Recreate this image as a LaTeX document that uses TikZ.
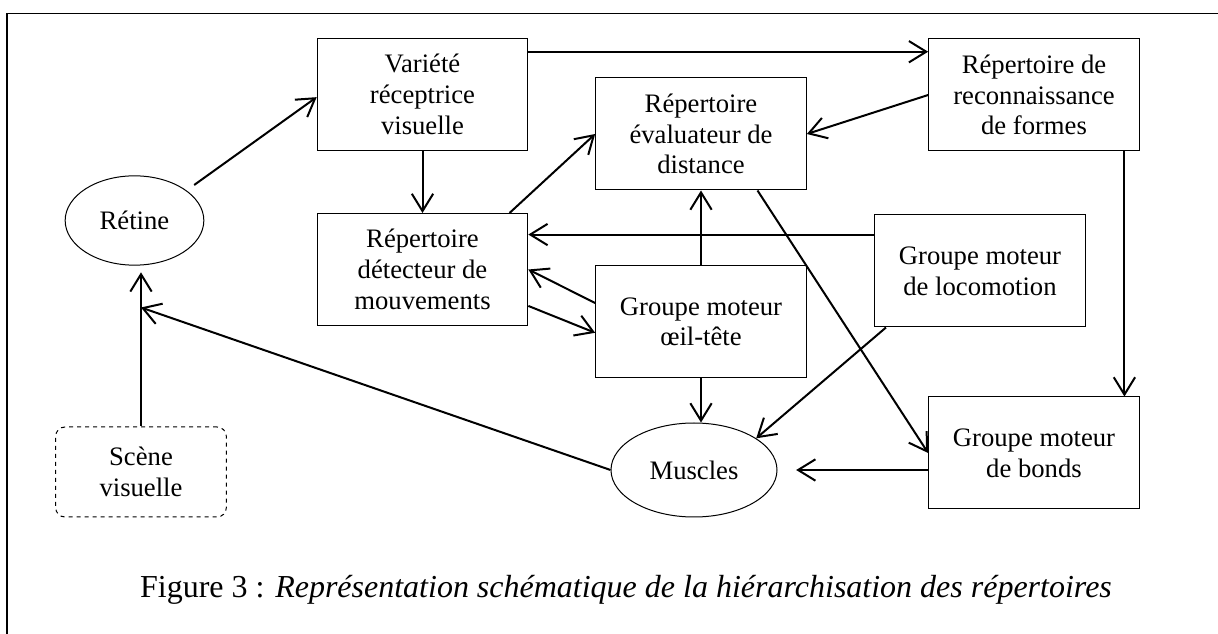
\documentclass[tikz,border=0pt]{standalone}
\usepackage{fontspec}
\setmainfont{Liberation Serif}
\usepackage{tikz}
\usetikzlibrary{
    shapes,
    shapes.geometric,
    positioning,
    calc,
    arrows.meta
}
\tikzset{
  basic/.style = {
      draw,
      rectangle,
      align=center,
      font=\fontsize{20}{23}\selectfont,
      line width=0.75pt,
      inner sep=2pt
  },
  boxnode/.style = {
      basic,
      minimum width=158pt,
      minimum height=84pt
  },
  round/.style = {
      basic,
      ellipse
  },
  scene/.style = {
      basic,
      dashed,
      rounded corners=7pt,
      minimum width=128pt,
      minimum height=67.5pt
  },
  edge/.style = {
      ->,
      line width=1.5pt
  },
  caption/.style = {
      font=\fontsize{24}{28}\selectfont
  },
  frame/.style = {
      line width=1.1pt
  }
}

\begin{document}
\begin{tikzpicture}[x=0.75pt, y=-0.75pt, >={Straight Barb[length=13pt,width=16pt]}]
        \useasboundingbox (0,0) rectangle (1218,634);
        \draw[frame] (7,13.5) rectangle (1240,660);
        % Nodes
        \node[round, minimum width=104pt, minimum height=67pt] (retine) at (134.5,220.5) {Rétine};
        \node[boxnode] (variete) at (422.5,94.5) {Variété\\réceptrice\\visuelle};
        \node[boxnode, below=46.5pt of variete] (detecteur) {Répertoire\\détecteur de\\mouvements};
        \node[boxnode] (evaluateur) at (701,134) {Répertoire\\évaluateur de\\distance};
        \node[boxnode, below=56pt of evaluateur] (oeil) {Groupe moteur\\œil-tête};
        \node[boxnode] (formes) at (1034,95) {Répertoire de\\reconnaissance\\de formes};
        \node[boxnode] (locomotion) at (980,271) {Groupe moteur\\de locomotion};
        \node[boxnode] (bonds) at (1034,453) {Groupe moteur\\de bonds};
        \node[round, minimum width=124.5pt, minimum height=70.5pt] (muscles) at (694,470) {Muscles};
        \node[scene] (scene) at (141,472) {Scène\\visuelle};
        % Label
        \node[caption] (legende) at (626,590) {Figure 3 : \textit{Représentation schématique de la hiérarchisation des répertoires}};
        % Edges
        \draw[edge, shorten <=7pt] (retine.30) -- ([yshift=-2pt]variete.west);
        \draw[edge] (variete.22) -- (variete.22 -| formes.west);
        \draw[edge] (formes.west) -- (evaluateur.east);
        \draw[edge] (variete.south) -- (detecteur.north);
        \draw[edge] (detecteur.33) -- (evaluateur.west);
        \draw[edge] (locomotion.161) -- (locomotion.161 -| detecteur.east);
        \draw[edge] (oeil.170) -- (detecteur.east);
        \draw[edge] (detecteur.-19) -- (oeil.186);
        \draw[edge] (oeil.north) -- (evaluateur.south);
        \draw[edge] (oeil.south) -- (oeil.south |- muscles.north);
        \draw[edge] (locomotion.211) -- (muscles.27);
        \draw[edge] (evaluateur.-45) -- (bonds.west);
        \draw[edge] (formes.-32.5) -- (formes.-32.5 |- bonds.north);
        \draw[edge, shorten >=14pt] (muscles.east -| bonds.west) -- (muscles.east);
        \coordinate (jonction) at ($(scene.north)!0.74!(scene.north |- retine.south)$);
        \draw[edge, shorten >=5pt] (scene.north) -- (scene.north |- retine.south);
        \draw[edge] (muscles.west) -- (jonction);
    \end{tikzpicture}
\end{document}
